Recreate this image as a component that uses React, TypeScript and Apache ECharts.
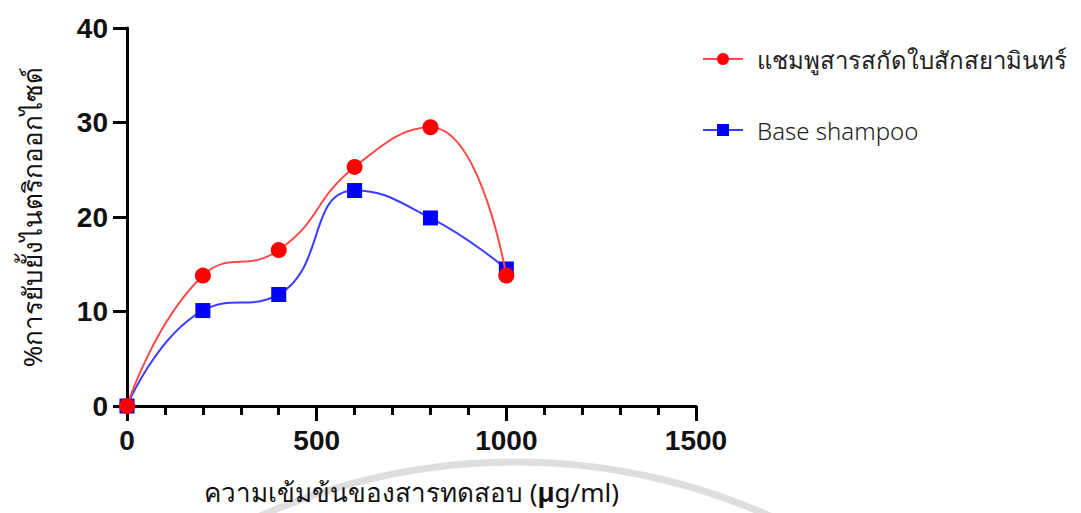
import React, { useEffect, useRef } from "react";
import * as echarts from "echarts";

const concentrations = [0, 200, 400, 600, 800, 1000];
const extractShampoo = [0, 13.8, 16.5, 25.3, 29.5, 13.8];
const baseShampoo = [0, 10.1, 11.8, 22.8, 19.9, 14.5];
const seriesNames = ["แชมพูสารสกัดใบสักสยามินทร์", "Base shampoo"];
const xAxisName = "ความเข้มข้นของสารทดสอบ ({b|μ}g/ml)";
const yAxisName = "%การยับยั้งไนตริกออกไซด์";

const tickFont = "'Liberation Sans', Arial, sans-serif";
const thaiFont = "'Noto Sans', 'DejaVu Sans', sans-serif";

export default function App() {
  const ref = useRef<HTMLDivElement>(null);
  useEffect(() => {
    if (!ref.current) return;
    const chart = echarts.init(ref.current, undefined, { renderer: "svg" });
    const pair = (xs: number[], ys: number[]) => xs.map((x, i) => [x, ys[i]]);
    chart.setOption({
      animation: false,
      backgroundColor: "#ffffff",
      grid: { left: 127, right: 385, top: 28, bottom: 107, containLabel: false, outerBoundsMode: "none" },
      graphic: [
        {
          type: "circle",
          silent: true,
          z: -10,
          shape: { cx: 515, cy: 1090, r: 628 },
          style: { fill: "none", stroke: "rgba(0,0,0,0.13)", lineWidth: 7 },
        },
      ],
      legend: {
        left: 697,
        top: 39,
        orient: "vertical",
        itemWidth: 40,
        itemHeight: 15,
        itemGap: 41,
        data: seriesNames,
        textStyle: {
          fontFamily: thaiFont,
          fontSize: 24,
          fontWeight: 300,
          color: "#222",
          lineHeight: 30,
          padding: [0, 0, 0, 9],
        },
      },
      xAxis: {
        type: "value",
        min: 0,
        max: 1500,
        interval: 500,
        splitLine: { show: false },
        axisLine: { show: true, onZero: false, lineStyle: { color: "#000", width: 3 } },
        axisTick: { show: true, length: 15, lineStyle: { color: "#000", width: 3 } },
        minorTick: { show: true, splitNumber: 5, length: 9, lineStyle: { color: "#000", width: 3 } },
        axisLabel: {
          margin: 20,
          fontFamily: tickFont,
          fontWeight: "bold",
          fontSize: 28,
          color: "#111",
          formatter: (v: number) => String(v),
        },
        name: xAxisName,
        nameLocation: "middle",
        nameGap: 72,
        nameTextStyle: {
          fontFamily: thaiFont,
          fontSize: 26,
          color: "#111",
          rich: {
            b: { fontFamily: tickFont, fontWeight: "bold", fontSize: 28, color: "#111" },
          },
        },
      },
      yAxis: {
        type: "value",
        min: 0,
        max: 40,
        interval: 10,
        splitLine: { show: false },
        axisLine: { show: true, onZero: false, lineStyle: { color: "#000", width: 3 } },
        axisTick: { show: true, length: 14, lineStyle: { color: "#000", width: 3 } },
        axisLabel: {
          margin: 19,
          fontFamily: tickFont,
          fontWeight: "bold",
          fontSize: 28,
          color: "#111",
          formatter: (v: number) => String(v),
        },
        name: yAxisName,
        nameLocation: "middle",
        nameGap: 82,
        nameRotate: 90,
        nameTextStyle: { fontFamily: thaiFont, fontSize: 26, color: "#111" },
      },
      series: [
        {
          name: seriesNames[0],
          type: "line",
          data: pair(concentrations, extractShampoo),
          smooth: 0.5,
          symbol: "circle",
          symbolSize: 16,
          z: 5,
          itemStyle: { color: "#ff0000" },
          lineStyle: { color: "#ff4a4a", width: 2 },
        },
        {
          name: seriesNames[1],
          type: "line",
          data: pair(concentrations, baseShampoo),
          smooth: 0.5,
          symbol: "rect",
          symbolSize: 15,
          z: 3,
          itemStyle: { color: "#0000ff" },
          lineStyle: { color: "#3c3cff", width: 2 },
        },
      ],
    });
    return () => chart.dispose();
  }, []);
  return <div ref={ref} style={{ width: 1081, height: 513, position: "absolute", left: 0, top: 0 }} />;
}
